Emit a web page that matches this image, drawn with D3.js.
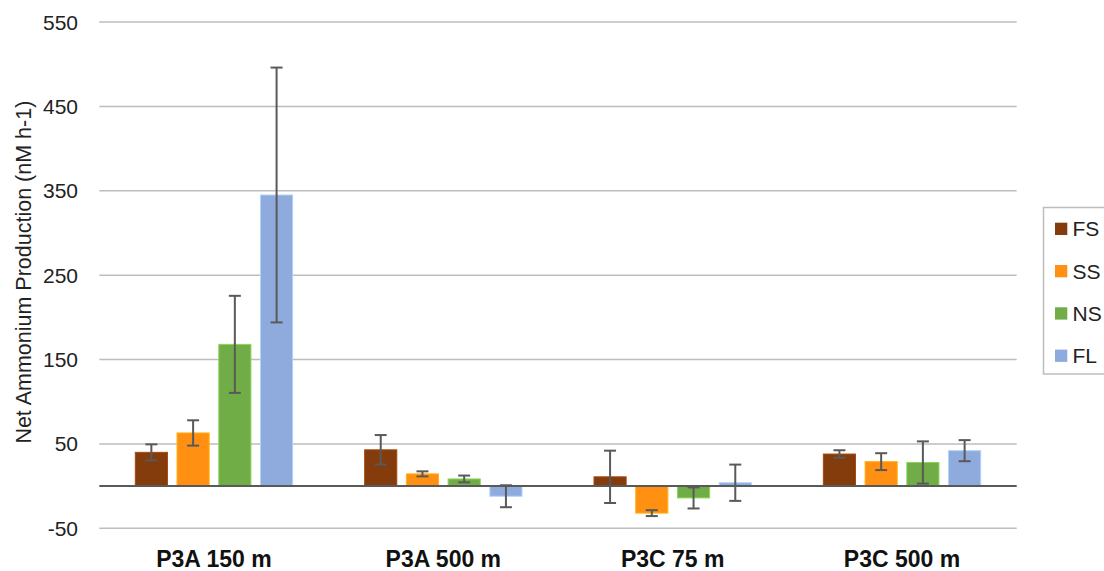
<!DOCTYPE html>
<html><head><meta charset="utf-8">
<script src="https://cdn.jsdelivr.net/npm/d3@7"></script>
<style>body{margin:0;background:#fff;}svg{display:block;font-family:"Liberation Sans",Arial,sans-serif;}</style>
</head><body>
<svg id="c" width="1104" height="571"></svg>
<script>
const categories = ["P3A 150 m", "P3A 500 m", "P3C 75 m", "P3C 500 m"];
const seriesNames = ["FS", "SS", "NS", "FL"];
const colors = ["#843C0C", "#FF9012", "#70AD47", "#8FAADC"];
const FS = [40, 43, 11, 38];
const SS = [63, 14.5, -32, 29];
const NS = [168, 8.5, -14, 28];
const FL = [345, -12, 4, 42];
const FS_err = [9.5, 17.5, 31, 4.5];
const SS_err = [15, 3, 3.5, 10];
const NS_err = [57.5, 4, 12.5, 25];
const FL_err = [151, 13, 21.5, 12.5];
const yTicks = [-50, 50, 150, 250, 350, 450, 550];
const yTitle = "Net Ammonium Production (nM h-1)";

const values = [FS, SS, NS, FL];
const errs = [FS_err, SS_err, NS_err, FL_err];

const svg = d3.select("#c");
const L = 99.3, R = 1016.7, T = 22, B = 528.3;
const y = d3.scaleLinear().domain([-50, 550]).range([B, T]);
const x0 = d3.scaleBand().domain(categories).range([L, R]).paddingInner(0).paddingOuter(0);
const x1 = d3.scaleBand().domain(seriesNames).range([36, x0.bandwidth() - 36]).paddingInner(0.23).paddingOuter(0);

// gridlines
svg.append("g").selectAll("line").data(yTicks).join("line")
  .attr("x1", L).attr("x2", R).attr("y1", d => y(d)).attr("y2", d => y(d))
  .attr("stroke", "#BDBDBD").attr("stroke-width", 1.5);

// y tick labels
svg.append("g").selectAll("text").data(yTicks).join("text")
  .attr("x", 78).attr("y", d => y(d)).attr("dy", "0.36em")
  .attr("text-anchor", "end").attr("font-size", 21).attr("fill", "#222")
  .text(d => d);

// bars
const groups = svg.append("g").selectAll("g").data(categories).join("g")
  .attr("transform", c => `translate(${x0(c)},0)`);
seriesNames.forEach((s, si) => {
  groups.append("rect")
    .attr("x", x1(s)).attr("width", x1.bandwidth())
    .attr("y", (c, i) => y(Math.max(0, values[si][i])))
    .attr("height", (c, i) => Math.abs(y(values[si][i]) - y(0)))
    .attr("fill", colors[si])
    .attr("stroke", d3.color(colors[si]).brighter(0.6)).attr("stroke-width", 1);
});

// zero line
svg.append("line").attr("x1", L).attr("x2", R).attr("y1", y(0)).attr("y2", y(0))
  .attr("stroke", "#595959").attr("stroke-width", 2);

// error bars
seriesNames.forEach((s, si) => {
  const eg = groups.append("g").attr("stroke", "#595959").attr("stroke-width", 2);
  const cx = x1(s) + x1.bandwidth() / 2;
  eg.append("line").attr("x1", cx).attr("x2", cx)
    .attr("y1", (c, i) => y(values[si][i] + errs[si][i]))
    .attr("y2", (c, i) => y(values[si][i] - errs[si][i]));
  eg.append("line").attr("x1", cx - 6).attr("x2", cx + 6)
    .attr("y1", (c, i) => y(values[si][i] + errs[si][i]))
    .attr("y2", (c, i) => y(values[si][i] + errs[si][i]));
  eg.append("line").attr("x1", cx - 6).attr("x2", cx + 6)
    .attr("y1", (c, i) => y(values[si][i] - errs[si][i]))
    .attr("y2", (c, i) => y(values[si][i] - errs[si][i]));
});

// category labels
svg.append("g").selectAll("text").data(categories).join("text")
  .attr("x", c => x0(c) + x0.bandwidth() / 2).attr("y", 567)
  .attr("text-anchor", "middle").attr("font-size", 23).attr("font-weight", "bold").attr("fill", "#111")
  .text(c => c);

// y title
svg.append("text").attr("transform", `translate(31,${(T + B) / 2 - 3}) rotate(-90)`)
  .attr("text-anchor", "middle").attr("font-size", 21.5).attr("fill", "#222").text(yTitle);

// legend
const lg = svg.append("g");
lg.append("rect").attr("x", 1043.5).attr("y", 207.5).attr("width", 80).attr("height", 166.5)
  .attr("fill", "#fff").attr("stroke", "#BDBDBD").attr("stroke-width", 1.5);
seriesNames.forEach((s, si) => {
  const cy = 228.7 + si * 42.3;
  lg.append("rect").attr("x", 1055).attr("y", cy - 6).attr("width", 12.3).attr("height", 12.3).attr("fill", colors[si]);
  lg.append("text").attr("x", 1072.5).attr("y", cy).attr("dy", "0.36em").attr("font-size", 21).attr("fill", "#222").text(s);
});
</script>
</body></html>
